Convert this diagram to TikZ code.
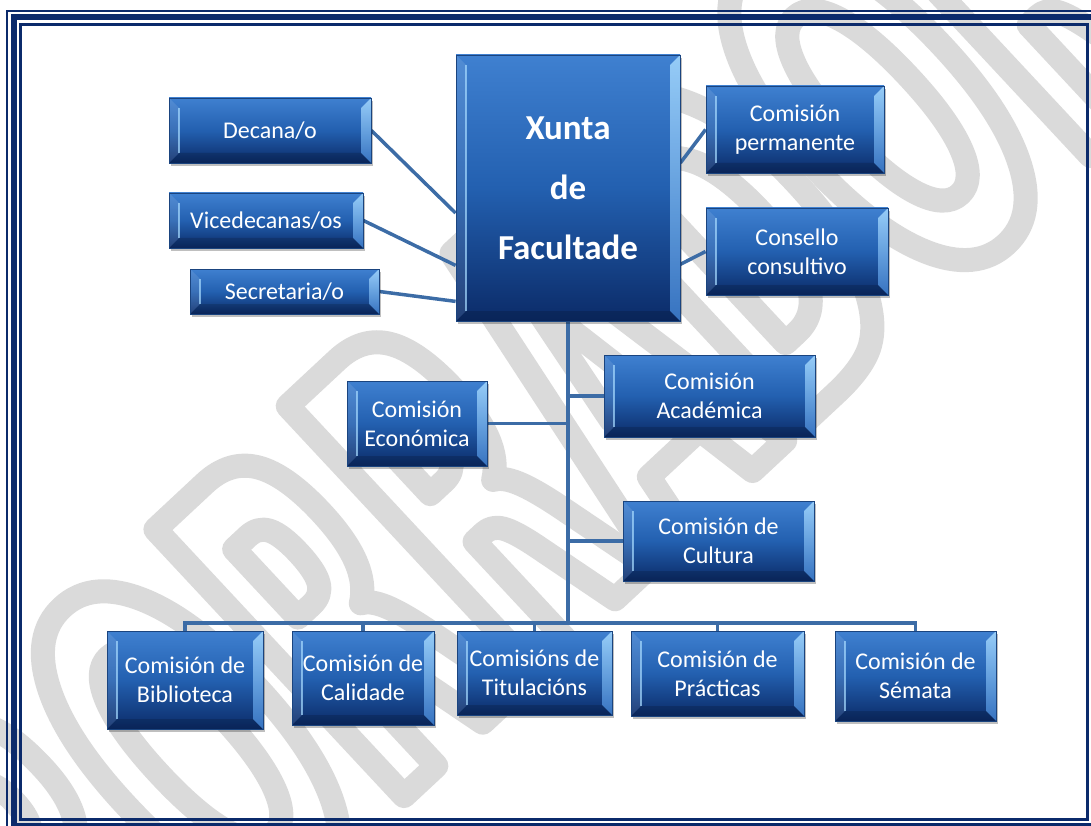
\documentclass[tikz,border=0pt]{standalone}
\usepackage{fontspec}
\setmainfont{Carlito}
\newfontfamily\wmfont{DejaVu Sans}[FakeStretch=0.47]
\usetikzlibrary{calc}
\definecolor{bTop}{HTML}{3F80D0}
\definecolor{bMid}{HTML}{2360B0}
\definecolor{bBot}{HTML}{0B2B68}
\definecolor{bEdge}{HTML}{1A447F}
\definecolor{connc}{HTML}{3C6CA6}
\definecolor{framec}{HTML}{0B2A6B}
\definecolor{wmc}{HTML}{DADADA}
\definecolor{bevR}{HTML}{A6DAFF}
\pgfdeclarelayer{wmlayer}
\pgfdeclarelayer{background}
\pgfsetlayers{wmlayer,background,main}
\tikzset{
  box/.style={draw=bEdge, line width=0.8pt, top color=bTop, bottom color=bBot, middle color=bMid,
    text=white, font=\fontsize{24}{29}\selectfont, align=center, inner sep=0pt,
    preaction={draw=none, fill=black, fill opacity=0.25, transform canvas={xshift=1.5pt,yshift=-3pt}},
    path picture={
      \fill[white, fill opacity=0.10] (path picture bounding box.north west) -- ([xshift=10pt,yshift=-10pt]path picture bounding box.north west) -- ([xshift=10pt,yshift=10pt]path picture bounding box.south west) -- (path picture bounding box.south west) -- cycle;
      \draw[bevR, opacity=0.7, line width=1.2pt] ([xshift=10pt,yshift=-10pt]path picture bounding box.north west) -- ([xshift=10pt,yshift=10pt]path picture bounding box.south west);
      \shade[top color=bevR, bottom color=bTop, fill opacity=0.85] (path picture bounding box.north east) -- ([xshift=-10pt,yshift=-10pt]path picture bounding box.north east) -- ([xshift=-10pt,yshift=10pt]path picture bounding box.south east) -- (path picture bounding box.south east) -- cycle;
      \fill[black, fill opacity=0.15] (path picture bounding box.south west) -- ([xshift=10pt,yshift=10pt]path picture bounding box.south west) -- ([xshift=-10pt,yshift=10pt]path picture bounding box.south east) -- (path picture bounding box.south east) -- cycle;
    }},
  connector/.style={draw=connc, line width=3.5pt},
  framel/.style={draw=framec},
}
\begin{document}
\begin{tikzpicture}[x=1pt,y=-1pt]
\useasboundingbox (0,0) rectangle (1091,826);
% frame
\draw[framel, line width=2.3pt] (7,11.2) rectangle (1101,832);
\draw[framel, line width=6pt] (14,17.5) rectangle (1094,825.5);
\draw[framel, line width=3pt] (20.5,24.6) rectangle (1087.3,819);
% watermark
\begin{pgfonlayer}{wmlayer}
\begin{scope}
\node[rotate=43, text=wmc, font=\wmfont\bfseries\fontsize{500}{500}\selectfont, inner sep=0pt] (wmk) at (535,425)
  {\special{pdf:literal direct 1 Tr 24 w 1 j 1 J}BORRADOR\special{pdf:literal direct 0 Tr}};
\end{scope}
\end{pgfonlayer}
% boxes
\node[box, minimum width=202pt, minimum height=65pt] (decana) at (270,130.5) {Decana/o};
\node[box, minimum width=194pt, minimum height=55pt] (vice) at (266,220.5) {Vicedecanas/os};
\node[box, minimum width=189pt, minimum height=45pt] (secre) at (284.5,291.5) {Secretaria/o};
\node[box, minimum width=224pt, minimum height=266pt, font=\bfseries\fontsize{35}{60}\selectfont] (xunta) at (568,188) {Xunta\\de\\Facultade};
\node[box, minimum width=178pt, minimum height=87pt] (perm) at (795,129.5) {Comisión\\permanente};
\node[box, minimum width=182pt, minimum height=87pt] (cons) at (797,251.5) {Consello\\consultivo};
\node[box, minimum width=140pt, minimum height=85pt] (econ) at (417,423.5) {Comisión\\Económica};
\node[box, minimum width=211pt, minimum height=82pt] (acad) at (709.5,396) {Comisión\\Académica};
\node[box, minimum width=191pt, minimum height=80pt] (cult) at (718.5,541) {Comisión de\\Cultura};
\node[box, minimum width=156pt, minimum height=98pt] (bibl) at (185,680) {Comisión de\\Biblioteca};
\node[box, minimum width=142pt, minimum height=94pt] (cali) at (363,678) {Comisión de\\Calidade};
\node[box, minimum width=155pt, minimum height=84pt] (titu) at (534.5,673) {Comisións de\\Titulacións};
\node[box, minimum width=173pt, minimum height=85pt] (prac) at (717.5,673.5) {Comisión de\\Prácticas};
\node[box, minimum width=161pt, minimum height=90pt] (sema) at (915.5,676) {Comisión de\\Sémata};
\coordinate (bus) at (568,623);
% connectors
\begin{pgfonlayer}{background}
\draw[connector] (decana.east) -- ($(xunta.north west)!0.594!(xunta.south west)$);
\draw[connector] (vice.east) -- ($(xunta.north west)!0.79!(xunta.south west)$);
\draw[connector] (secre.east) -- ($(xunta.north west)!0.925!(xunta.south west)$);
\draw[connector] ($(xunta.north east)!0.406!(xunta.south east)$) -- (perm.west);
\draw[connector] ($(xunta.north east)!0.786!(xunta.south east)$) -- (cons.west);
\draw[connector] (xunta.south) -- (bus);
\draw[connector] (econ.east) -- (econ.east -| xunta.south);
\draw[connector] (acad.west) -- (acad.west -| xunta.south);
\draw[connector] (cult.west) -- (cult.west -| xunta.south);
\draw[connector] (bibl.north) |- (bus) -| (sema.north);
\foreach \n in {cali,titu,prac} \draw[connector] (\n.north) -- (\n.north |- bus);
\end{pgfonlayer}
\end{tikzpicture}
\end{document}
